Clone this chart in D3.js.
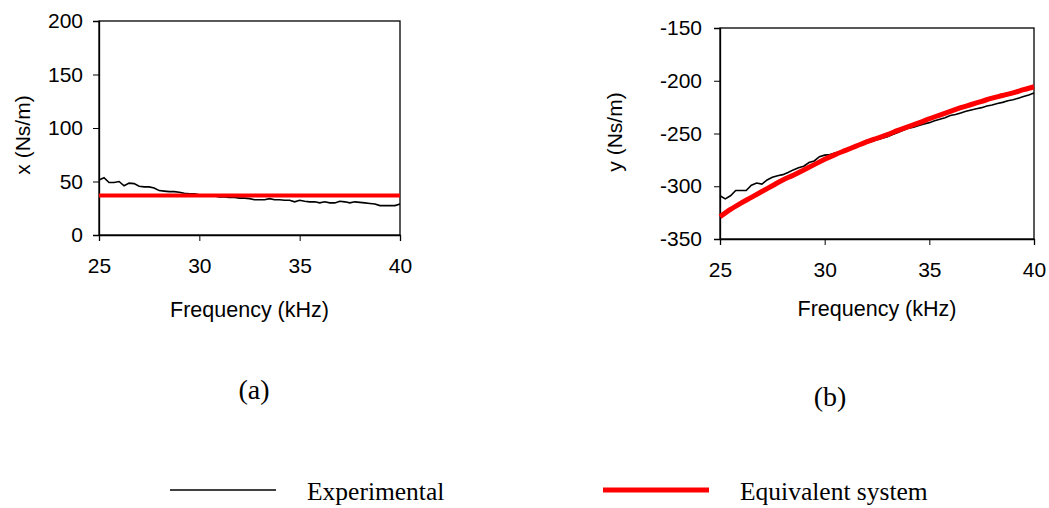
<!DOCTYPE html>
<html>
<head>
<meta charset="utf-8">
<script src="https://cdn.jsdelivr.net/npm/d3@7"></script>
<style>
	body { margin: 0; background: #fff; }
	svg text { font-family: "Liberation Sans", Arial, sans-serif; }
	.serif { font-family: "Liberation Serif", "Times New Roman", serif; }
</style>
</head>
<body>
<svg id="chart" width="1049" height="508"></svg>
<script>
// frequency grids (kHz)
const freqFine = d3.range(25, 40.001, 0.25);
const freqFit = d3.range(25, 40.001, 0.5);

// panel (a): real part x (Ns/m)
const xExperimental = [51.5, 53.5, 49, 49, 50, 46, 48.5, 48, 45.5, 45, 45, 44, 41.5, 41, 40.5, 40.5,
	40, 39, 38.5, 38.5, 37.5, 37.5, 37, 36.5, 35.5, 35.5, 35, 35, 34.5, 34.5, 34, 33,
	33, 33, 34, 33, 33, 32.5, 32.5, 31, 32.5, 31.5, 31, 31, 30, 31, 30, 30,
	31.5, 31, 30, 31, 30.5, 30, 29.5, 29, 27.5, 27.5, 27.5, 27.5, 29];
const xEquivFreq = [25, 40];
const xEquivalent = [37, 37];

// panel (b): imaginary part y (Ns/m)
const yExperimental = [-309, -312, -309, -304, -304, -304, -299, -297, -298, -294, -291.5, -290, -289, -287, -284.5, -282.5,
	-281, -277.5, -276, -272, -270.5, -270, -268.5, -267, -265.5, -263.5, -262, -260.5, -259, -257.5, -256, -254.5,
	-253, -251, -249, -247, -245, -244, -242.5, -241, -239.7, -238, -236.5, -235, -233, -232, -230.5, -229,
	-227.7, -226.5, -225.5, -224, -223, -221.5, -220.5, -219, -218, -216.5, -215, -213.5, -211.7];
const yEquivalent = [-329, -322, -316, -310.5, -305, -299.5, -294, -289.5, -284.5, -279.5, -274.5, -270, -266, -262, -258, -254.5,
	-251, -247, -243.5, -240, -236, -232.5, -229, -225.5, -222.5, -219.5, -216.5, -214, -211.5, -208.5, -205.7];

const xTicks = [25, 30, 35, 40];

const svg = d3.select("#chart");

function panel(opts) {
	const g = svg.append("g");
	const x = d3.scaleLinear().domain([25, 40]).range([opts.left, opts.right]);
	const y = d3.scaleLinear().domain(opts.yDomain).range([opts.bottom, opts.top]);

	g.append("rect")
		.attr("x", opts.left).attr("y", opts.top)
		.attr("width", opts.right - opts.left).attr("height", opts.bottom - opts.top)
		.attr("fill", "none").attr("stroke", "#000").attr("stroke-width", 1.3);

	const xAxis = g.append("g")
		.attr("transform", `translate(0,${opts.bottom})`)
		.call(d3.axisBottom(x).tickValues(xTicks).tickSize(6).tickPadding(17));
	const yAxis = g.append("g")
		.attr("transform", `translate(${opts.left},0)`)
		.call(d3.axisLeft(y).tickValues(opts.yTicks).tickSize(6).tickPadding(opts.yPad).tickFormat(d => String(d)));
	[xAxis, yAxis].forEach(a => {
		a.select(".domain").attr("stroke-width", 1.3);
		a.selectAll("text").attr("font-size", 21).attr("fill", "#000").style("font-family", "'Liberation Sans', Arial, sans-serif");
		a.selectAll(".tick line").attr("stroke-width", 1);
	});

	g.append("text")
		.attr("x", (opts.left + opts.right) / 2)
		.attr("y", opts.bottom + opts.titleOffset)
		.attr("text-anchor", "middle")
		.attr("font-size", 21.5)
		.text("Frequency (kHz)");
	g.append("text")
		.attr("transform", `translate(${opts.yTitleX},${opts.yTitleY}) rotate(-90)`)
		.attr("text-anchor", "middle")
		.attr("font-size", 21)
		.text(opts.yTitle);

	const line = d3.line().x(d => x(d[0])).y(d => y(d[1]));
	g.append("path")
		.datum(d3.zip(opts.expFreq, opts.exp))
		.attr("fill", "none").attr("stroke", "#000").attr("stroke-width", 1.6)
		.attr("d", line);
	g.append("path")
		.datum(d3.zip(opts.eqFreq, opts.eq))
		.attr("fill", "none").attr("stroke", "#ff0000").attr("stroke-width", opts.eqWidth)
		.attr("d", line.curve(d3.curveMonotoneX));

	svg.append("text")
		.attr("class", "serif")
		.attr("x", opts.labelX).attr("y", opts.labelY)
		.attr("text-anchor", "middle")
		.attr("font-size", 28)
		.text(opts.label);
}

panel({
	left: 99, right: 400, top: 21, bottom: 235,
	yDomain: [0, 200], yTicks: [0, 50, 100, 150, 200], yPad: 10,
	yTitle: "x (Ns/m)", yTitleX: 30, yTitleY: 135, titleOffset: 82,
	expFreq: freqFine, exp: xExperimental,
	eqFreq: xEquivFreq, eq: xEquivalent, eqWidth: 4,
	label: "(a)", labelX: 254, labelY: 399
});

panel({
	left: 720, right: 1034, top: 28, bottom: 239,
	yDomain: [-350, -150], yTicks: [-350, -300, -250, -200, -150], yPad: 12,
	yTitle: "y (Ns/m)", yTitleX: 622, yTitleY: 132, titleOffset: 77,
	expFreq: freqFine, exp: yExperimental,
	eqFreq: freqFit, eq: yEquivalent, eqWidth: 5,
	label: "(b)", labelX: 830, labelY: 406
});

// legend
const legend = svg.append("g");
const legendItems = [
	{ name: "Experimental", color: "#000", width: 1.6, x: 170 },
	{ name: "Equivalent system", color: "#ff0000", width: 5, x: 603 }
];
legendItems.forEach(d => {
	legend.append("line")
		.attr("x1", d.x).attr("x2", d.x + 106)
		.attr("y1", 490).attr("y2", 490)
		.attr("stroke", d.color).attr("stroke-width", d.width);
	legend.append("text")
		.attr("class", "serif")
		.attr("x", d.x + 137).attr("y", 500)
		.attr("font-size", 25.5)
		.text(d.name);
});
</script>
</body>
</html>
